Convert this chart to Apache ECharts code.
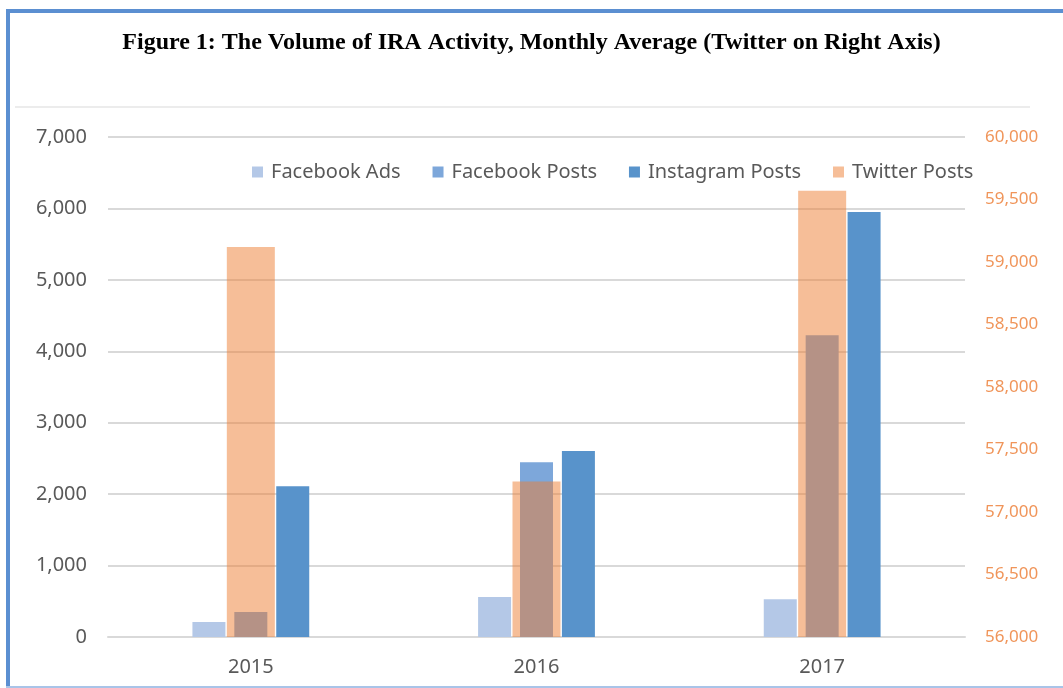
<!doctype html>
<html lang="en">
  <head>
    <meta charset="utf-8">
    <title>IRA Activity</title>
    <script src="https://cdn.jsdelivr.net/npm/echarts@6/dist/echarts.min.js"></script>
    <style>
      html, body {
        width: 100%;
        height: 100%;
        margin: 0;
        background: #fff;
      }

      #chart {
        width: 1063px;
        height: 688px;
      }
    </style>
  </head>
  <body>
    <div id="chart"></div>
    <script>
      const years = ['2015', '2016', '2017'];
      const facebookAds = [210, 560, 530];
      const facebookPosts = [350, 2445, 4225];
      const instagramPosts = [2110, 2605, 5950];
      const twitterPosts = [59120, 57245, 59570];

      let chartDom = document.getElementById('chart');
      let chart = echarts.init(chartDom, null, {renderer: 'canvas'});

      const fmt = (v) => v.toLocaleString('en-US');
      const labelFont = 'Noto Sans';

      let option = {
        animation: false,
        title: {
          text: 'Figure 1: The Volume of IRA Activity, Monthly Average (Twitter on Right Axis)',
          left: 'center',
          top: 26,
          textStyle: {
            fontFamily: 'Liberation Serif',
            fontWeight: 'bold',
            fontSize: 24,
            color: '#000'
          }
        },
        graphic: [
          { type: 'rect', shape: { x: 6, y: 9, width: 4, height: 679 }, style: { fill: '#5b8fd1' } },
          { type: 'rect', shape: { x: 6, y: 9, width: 1057, height: 4 }, style: { fill: '#5b8fd1' } },
          { type: 'rect', shape: { x: 6, y: 686, width: 1057, height: 2 }, style: { fill: '#a9c4e8' } },
          { type: 'rect', shape: { x: 15, y: 106, width: 1015, height: 2 }, style: { fill: '#ececec' } }
        ],
        legend: {
          top: 157,
          left: 247,
          itemWidth: 11,
          itemHeight: 11,
          itemGap: 32,
          icon: 'rect',
          textStyle: {
            fontFamily: labelFont,
            fontSize: 20,
            color: '#595959',
            padding: [0, 0, 0, 3]
          },
          data: ['Facebook Ads', 'Facebook Posts', 'Instagram Posts', 'Twitter Posts']
        },
        grid: {
          left: 108,
          right: 98,
          top: 137,
          bottom: 51
        },
        xAxis: [
          {
            type: 'category',
            data: years,
            axisLine: { lineStyle: { color: '#d9d9d9', width: 2 } },
            axisTick: { show: false },
            axisLabel: {
              margin: 20,
              fontFamily: labelFont,
              fontSize: 20,
              color: '#595959'
            }
          },
          {
            type: 'category',
            data: years,
            show: false
          }
        ],
        yAxis: [
          {
            type: 'value',
            min: 0,
            max: 7000,
            interval: 1000,
            axisLine: { show: false },
            axisTick: { show: false },
            splitLine: { lineStyle: { color: '#d9d9d9', width: 2 } },
            axisLabel: {
              margin: 21,
              fontFamily: labelFont,
              fontSize: 20,
              color: '#595959',
              formatter: fmt
            }
          },
          {
            type: 'value',
            min: 56000,
            max: 60000,
            interval: 500,
            position: 'right',
            axisLine: { show: false },
            axisTick: { show: false },
            splitLine: { show: false },
            axisLabel: {
              margin: 20,
              fontFamily: labelFont,
              fontSize: 17,
              color: '#f0955a',
              formatter: fmt
            }
          }
        ],
        series: [
          {
            name: 'Facebook Ads',
            type: 'bar',
            barWidth: 33,
            barGap: '27%',
            itemStyle: { color: '#b4c8e7' },
            data: facebookAds
          },
          {
            name: 'Facebook Posts',
            type: 'bar',
            barWidth: 33,
            barGap: '27%',
            itemStyle: { color: '#7da7da' },
            data: facebookPosts
          },
          {
            name: 'Instagram Posts',
            type: 'bar',
            barWidth: 33,
            barGap: '27%',
            itemStyle: { color: '#5893cb' },
            data: instagramPosts
          },
          {
            name: 'Twitter Posts',
            type: 'bar',
            xAxisIndex: 1,
            yAxisIndex: 1,
            barWidth: 48,
            itemStyle: { color: 'rgba(237, 125, 49, 0.5)' },
            data: twitterPosts
          }
        ]
      };

      chart.setOption(option);
    </script>
  </body>
</html>
